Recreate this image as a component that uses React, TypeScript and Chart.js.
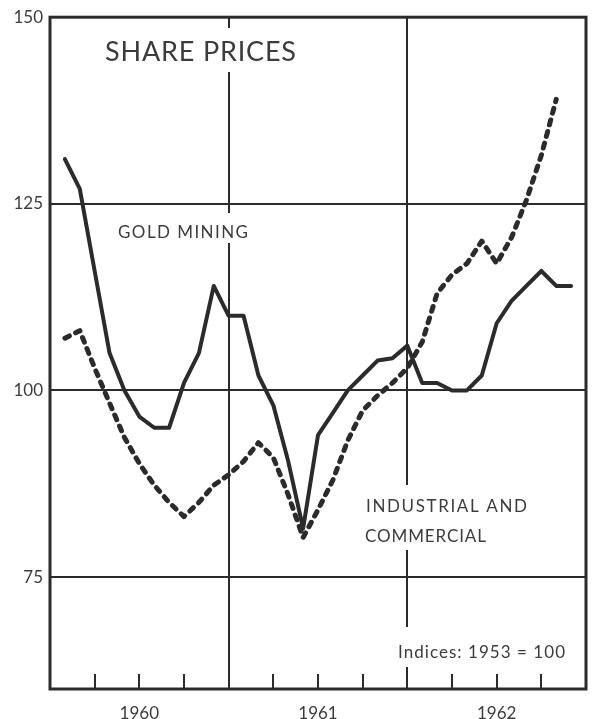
import React, { useEffect, useRef } from "react";
import { Chart, registerables } from "chart.js";

Chart.register(...registerables);

// Months counted from the start of 1960 (1 = end of Jan 1960)
const goldMonths = [1,2,3,4,5,6,7,8,9,10,11,12,13,14,15,16,17,18,19,20,21,22,23,24,25,26,27,28,29,30,31,32,33,34,35];
const goldMining = [131,127,116,105,100,96.5,95,95,101,105,114,110,110,102,98,90.5,81.5,94,97,100,102,104,104.3,106,101,101,100,100,102,109,112,114,116,114,114];

const indMonths = [1,2,3,4,5,6,7,8,9,10,11,12,13,14,15,16,17,18,19,20,21,22,23,24,25,26,27,28,29,30,31,32,33,34];
const industrial = [107,108,103,98.3,93.7,90.2,87.3,85,83.1,85,87.3,88.7,90.5,93,91,86,80.3,84,88,93.3,97.3,99.3,101,103,106.5,113,115.5,117,120,117,120.5,125.5,131.5,139];

const yTicks = [75, 100, 125, 150];
const yearTickValues = [6, 18, 30];
const yearLabels = ["1960", "1961", "1962"];
const yearBoundaries = [12, 24];
const quarterTicks = [3, 6, 9, 15, 18, 21, 27, 30, 33];

const INK = "#2b2b2b";
const TEXT = "#3c3c3c";
const FONT = "Lato, 'Open Sans', sans-serif";

const labels = [
  { text: "SHARE PRICES", x: 105, y: 61, w: 191, size: 27 },
  { text: "GOLD MINING", x: 118, y: 238, w: 130, size: 17 },
  { text: "INDUSTRIAL AND", x: 366, y: 512, w: 161, size: 17 },
  { text: "COMMERCIAL", x: 365, y: 542, w: 121, size: 17 },
  { text: "Indices: 1953 = 100", x: 398, y: 658, w: 167, size: 17 },
];

// gaps in the year-boundary lines around the texts (value of the line, pixel y range)
const gaps = [
  { at: 12, y0: 28, y1: 72 },
  { at: 12, y0: 213, y1: 243 },
  { at: 24, y0: 485, y1: 550 },
  { at: 24, y0: 627, y1: 667 },
];

const decor = {
  id: "decor",
  beforeDatasetsDraw(chart: any) {
    const { ctx, chartArea: a, scales } = chart;
    const xs = scales.x;
    ctx.save();
    ctx.strokeStyle = INK;
    ctx.lineWidth = 2;
    for (const v of yearBoundaries) {
      const px = Math.round(xs.getPixelForValue(v));
      ctx.beginPath();
      ctx.moveTo(px, a.top);
      ctx.lineTo(px, a.bottom);
      ctx.stroke();
    }
    for (const v of quarterTicks) {
      const px = Math.round(xs.getPixelForValue(v));
      ctx.beginPath();
      ctx.moveTo(px, a.bottom);
      ctx.lineTo(px, a.bottom - 15);
      ctx.stroke();
    }
    ctx.fillStyle = "#ffffff";
    for (const g of gaps) {
      const px = xs.getPixelForValue(g.at);
      ctx.fillRect(px - 3, g.y0, 6, g.y1 - g.y0);
    }
    ctx.lineWidth = 3;
    ctx.strokeRect(a.left, a.top, a.right - a.left, a.bottom - a.top);
    ctx.fillStyle = TEXT;
    ctx.textBaseline = "alphabetic";
    ctx.textAlign = "left";
    for (const l of labels) {
      ctx.font = `${l.size}px ${FONT}`;
      (ctx as any).letterSpacing = "0px";
      const m = ctx.measureText(l.text).width;
      const n = l.text.length;
      const ls = n > 1 ? (l.w - m) / (n - 1) : 0;
      (ctx as any).letterSpacing = `${ls}px`;
      ctx.fillText(l.text, l.x, l.y);
    }
    (ctx as any).letterSpacing = "0px";
    ctx.restore();
  },
};

export default function App() {
  const ref = useRef<HTMLCanvasElement>(null);
  useEffect(() => {
    document.body.style.margin = "0";
    const chart = new Chart(ref.current!, {
      type: "line",
      data: {
        datasets: [
          {
            label: "Gold Mining",
            data: goldMonths.map((m, i) => ({ x: m, y: goldMining[i] })),
            borderColor: INK,
            borderWidth: 4,
            pointRadius: 0,
            tension: 0,
            borderJoinStyle: "round",
            borderCapStyle: "round",
          },
          {
            label: "Industrial and Commercial",
            data: indMonths.map((m, i) => ({ x: m, y: industrial[i] })),
            borderColor: INK,
            borderWidth: 5,
            borderDash: [5, 7],
            borderCapStyle: "round",
            borderJoinStyle: "round",
            pointRadius: 0,
            tension: 0,
          },
        ],
      },
      options: {
        animation: false,
        responsive: false,
        layout: { padding: { top: 15, right: 8, left: 0, bottom: 0 } },
        plugins: { legend: { display: false }, tooltip: { enabled: false } },
        scales: {
          x: {
            type: "linear",
            min: 0,
            max: 36,
            grid: { display: false, drawTicks: false },
            border: { display: false },
            afterBuildTicks: (s: any) => {
              s.ticks = yearTickValues.map((v) => ({ value: v }));
            },
            afterFit: (s: any) => {
              s.height = 30;
            },
            ticks: {
              padding: 14,
              color: TEXT,
              font: { family: FONT, size: 17 },
              maxRotation: 0,
              autoSkip: false,
              callback: (v: any) => {
                const i = yearTickValues.indexOf(Number(v));
                return i >= 0 ? yearLabels[i] : "";
              },
            },
          },
          y: {
            min: 60,
            max: 150,
            grid: { color: INK, lineWidth: 2, drawTicks: false },
            border: { display: false },
            afterBuildTicks: (s: any) => {
              s.ticks = yTicks.map((v) => ({ value: v }));
            },
            afterFit: (s: any) => {
              s.width = 50;
            },
            ticks: {
              padding: 7,
              color: TEXT,
              font: { family: FONT, size: 17 },
            },
          },
        },
      },
      plugins: [decor],
    });
    return () => chart.destroy();
  }, []);
  return (
    <div style={{ width: 594, height: 719 }}>
      <canvas ref={ref} width={594} height={719} />
    </div>
  );
}
